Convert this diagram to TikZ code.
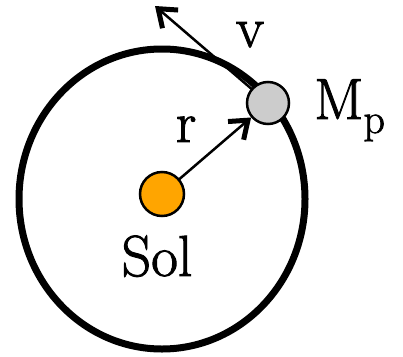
\documentclass[tikz,border=0pt]{standalone}
\usepackage{fontspec}
\newfontfamily\lblfont{Latin Modern Roman}[FakeBold=1.6]
\usepackage{tikz}
\usetikzlibrary{arrows.meta}
\definecolor{sungold}{RGB}{255, 165, 0}
\definecolor{planetgray}{RGB}{204, 204, 204}

\begin{document}
\begin{tikzpicture}[
    x=1pt, y=-1pt,
    body/.style={circle, draw=black, line width=2.5pt, minimum size=42pt, inner sep=0pt},
    vec/.style={-{Straight Barb[length=16pt, width=24pt, line width=5pt]}, line width=2.5pt, shorten <=-1pt},
    orbit/.style={draw=black, line width=7pt},
    lbl/.style={inner sep=0pt, font=\lblfont\fontsize{58}{58}\selectfont}
]
    \useasboundingbox (0,0) rectangle (403,356);

    \draw[orbit] (162,199) ellipse [x radius=143, y radius=150];

    \node[body, fill=sungold, minimum size=44pt] (sol) at (162,194) {};
    \node[body, fill=planetgray] (mp) at (268,103) {};
    \coordinate (vtip) at (155,6);

    \draw[vec] (sol) -- (mp);
    \draw[vec] (mp) -- (vtip);

    \node[lbl, anchor=base] (vlbl) at (250,47) {v};
    \node[lbl, anchor=base] (rlbl) at (186,142) {r};
    \node[lbl, anchor=base] (sollbl) at (157,276) {Sol};
    \node[lbl, anchor=base west] (mplbl) at (314,119) {M\raisebox{-14pt}{\fontsize{42}{42}\selectfont p}};
\end{tikzpicture}
\end{document}
